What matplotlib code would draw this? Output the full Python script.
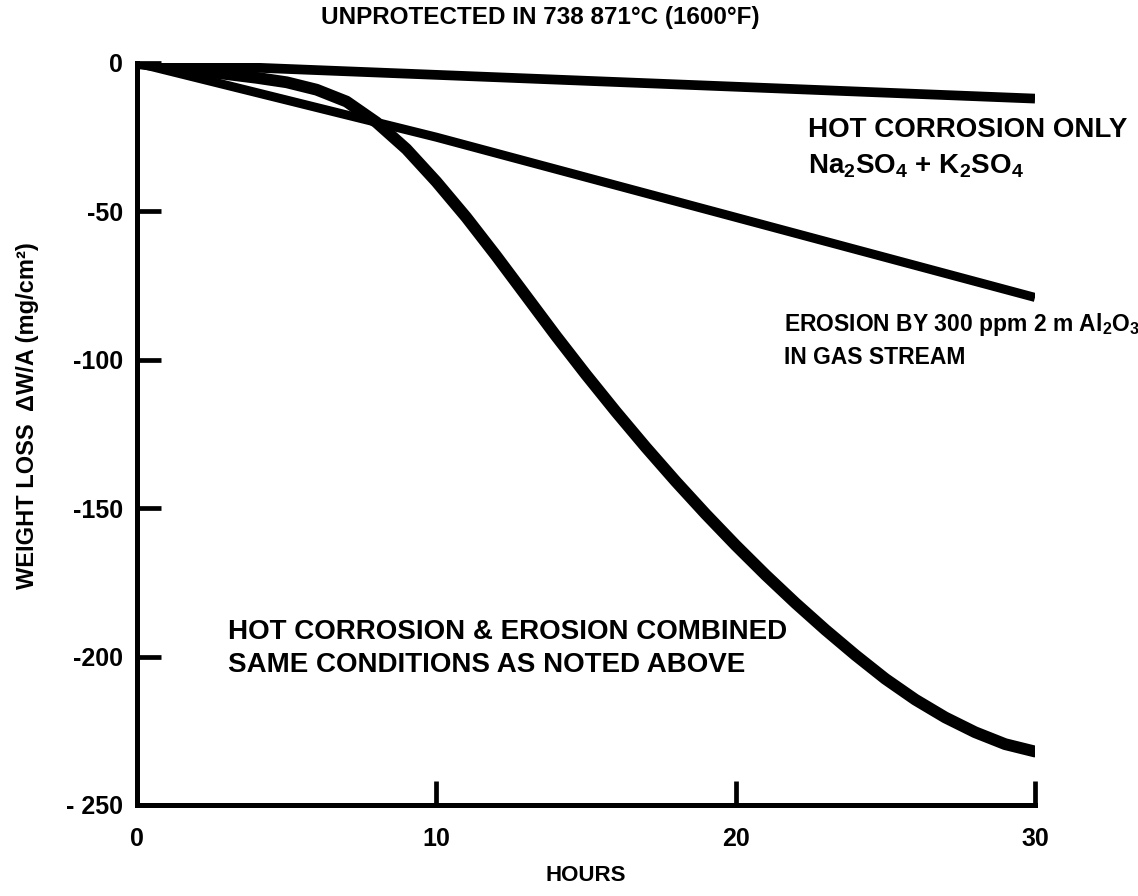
import numpy as np
import matplotlib
matplotlib.use("Agg")
import matplotlib.pyplot as plt

plt.rcParams['font.family'] = ['Liberation Sans', 'DejaVu Sans']
plt.rcParams['font.weight'] = 'bold'
plt.rcParams['mathtext.fontset'] = 'custom'
plt.rcParams['mathtext.bf'] = 'Liberation Sans:bold'
plt.rcParams['mathtext.rm'] = 'Liberation Sans:bold'
plt.rcParams['mathtext.default'] = 'bf'

# data
hours_corr = [0, 30]
loss_corr = [0, -12]

hours_eros = [0, 10, 20, 30]
loss_eros = [0, -25, -52, -79]

hours_comb = [0, 2, 4, 5, 6, 7, 8, 9, 10, 11, 12, 13, 14, 15, 16, 17, 18, 19, 20,
              21, 22, 23, 24, 25, 26, 27, 28, 29, 30]
loss_comb = [0, -2.5, -5, -6.5, -9, -13, -20, -29, -40, -52, -65, -78.5, -92, -105,
             -117.5, -129.5, -141, -152, -162.5, -172.5, -182, -191, -199.5, -207.5,
             -214.5, -220.5, -225.5, -229.5, -232]

xticks = [0, 10, 20, 30]
yticks = [0, -50, -100, -150, -200, -250]
ytick_labels = ['0', '-50', '-100', '-150', '-200', '- 250']

fig = plt.figure(figsize=(11.38, 8.96), dpi=100)
ax = fig.add_axes([0.1204, 0.1016, 0.7891, 0.8281])

ax.plot(hours_corr, loss_corr, color='black', lw=7, solid_capstyle='butt')
ax.plot(hours_eros, loss_eros, color='black', lw=6.5, solid_capstyle='butt')
ax.plot(hours_comb, loss_comb, color='black', lw=8.5, solid_capstyle='round',
        solid_joinstyle='round')

ax.set_xlim(0, 30)
ax.set_ylim(-250, 0)
ax.set_xticks(xticks)
ax.set_xticklabels([str(t) for t in xticks])
ax.set_yticks(yticks)
ax.set_yticklabels(ytick_labels)

for s in ['top', 'right']:
    ax.spines[s].set_visible(False)
ax.spines['left'].set_linewidth(3.6)
ax.spines['bottom'].set_linewidth(3.6)
ax.spines['left'].set_capstyle('projecting')
ax.tick_params(axis='both', direction='in', length=17, width=3.4,
               labelsize=18, color='black')
ax.tick_params(axis='x', pad=16)
ax.tick_params(axis='y', pad=10)
for lab in ax.get_xticklabels() + ax.get_yticklabels():
    lab.set_fontweight('bold')

fs = 20
ax.text(22.4, -22.6, 'HOT CORROSION ONLY', fontsize=fs, fontweight='bold', va='center')
ax.text(22.4, -34.7, r'Na$_2$SO$_4$ + K$_2$SO$_4$', fontsize=fs, fontweight='bold', va='center')
ax.text(21.6, -88.2, r'EROSION BY 300 ppm 2 m Al$_2$O$_3$', fontsize=16.5, fontweight='bold', va='center')
ax.text(21.6, -99.3, 'IN GAS STREAM', fontsize=16.5, fontweight='bold', va='center')
ax.text(3.04, -191.6, 'HOT CORROSION & EROSION COMBINED', fontsize=fs, fontweight='bold', va='center')
ax.text(3.04, -202.7, 'SAME CONDITIONS AS NOTED ABOVE', fontsize=fs, fontweight='bold', va='center')

fig.text(0.475, 0.98, 'UNPROTECTED IN 738 871°C (1600°F)', fontsize=17.5,
         fontweight='bold', ha='center', va='center')
fig.text(0.515, 0.023, 'HOURS', fontsize=16, fontweight='bold', ha='center', va='center')
fig.text(0.024, 0.536, 'WEIGHT LOSS  ΔW/A (mg/cm²)', fontsize=17, fontweight='bold',
         rotation=90, ha='center', va='center')

fig.savefig('out.png', dpi=100)
